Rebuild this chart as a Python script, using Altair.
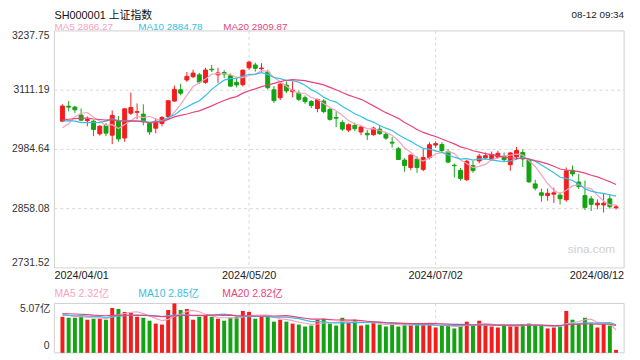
import altair as alt
import pandas as pd

# ---------------- data ----------------
dates = [
    "04/01", "04/02", "04/03", "04/08", "04/09", "04/10", "04/11", "04/12", "04/15", "04/16",
    "04/17", "04/18", "04/19", "04/22", "04/23", "04/24", "04/25", "04/26", "04/29", "04/30",
    "05/06", "05/07", "05/08", "05/09", "05/10", "05/13", "05/14", "05/15", "05/16", "05/17",
    "05/20", "05/21", "05/22", "05/23", "05/24", "05/27", "05/28", "05/29", "05/30", "05/31",
    "06/03", "06/04", "06/05", "06/06", "06/07", "06/11", "06/12", "06/13", "06/14", "06/17",
    "06/18", "06/19", "06/20", "06/21", "06/24", "06/25", "06/26", "06/27", "06/28", "07/01",
    "07/02", "07/03", "07/04", "07/05", "07/08", "07/09", "07/10", "07/11", "07/12", "07/15",
    "07/16", "07/17", "07/18", "07/19", "07/22", "07/23", "07/24", "07/25", "07/26", "07/29",
    "07/30", "07/31", "08/01", "08/02", "08/05", "08/06", "08/07", "08/08", "08/09", "08/12",
]
opens = [
    3045, 3077, 3075, 3058, 3046, 3045, 3018, 3036, 3015, 3045,
    3009, 3062, 3064, 3060, 3040, 3030, 3040, 3055, 3088, 3112,
    3133, 3140, 3144, 3128, 3156, 3144, 3149, 3142, 3128, 3123,
    3159, 3165, 3157, 3150, 3112, 3095, 3122, 3108, 3105, 3095,
    3087, 3072, 3088, 3070, 3053, 3042, 3026, 3036, 3022, 3019,
    3016, 3028, 3017, 3000, 2986, 2962, 2946, 2964, 2942, 2967,
    2994, 2995, 2980, 2951, 2940, 2920, 2950, 2960, 2967, 2965,
    2968, 2970, 2952, 2969, 2978, 2962, 2911, 2892, 2886, 2889,
    2887, 2877, 2940, 2915, 2886, 2879, 2866, 2866, 2879, 2860,
]
highs = [
    3081, 3088, 3078, 3072, 3055, 3047, 3036, 3041, 3068, 3056,
    3072, 3106, 3083, 3081, 3042, 3051, 3056, 3090, 3121, 3125,
    3150, 3155, 3148, 3159, 3165, 3159, 3154, 3147, 3140, 3155,
    3174, 3170, 3169, 3155, 3120, 3127, 3130, 3130, 3110, 3100,
    3090, 3093, 3092, 3073, 3066, 3047, 3040, 3042, 3034, 3026,
    3033, 3036, 3021, 3011, 2990, 2966, 2974, 2970, 2985, 3000,
    3002, 3000, 2985, 2954, 2945, 2962, 2960, 2975, 2978, 2980,
    2982, 2978, 2979, 2990, 2985, 2966, 2920, 2901, 2901, 2903,
    2893, 2946, 2950, 2932, 2918, 2885, 2878, 2890, 2888, 2866,
]
lows = [
    3043, 3066, 3062, 3045, 3034, 3013, 3014, 3013, 2996, 3001,
    3001, 3058, 3049, 3036, 3016, 3019, 3034, 3049, 3086, 3100,
    3129, 3137, 3125, 3125, 3150, 3127, 3137, 3118, 3117, 3119,
    3155, 3151, 3150, 3113, 3084, 3090, 3105, 3096, 3088, 3082,
    3073, 3064, 3062, 3046, 3032, 3024, 3022, 3024, 3015, 3005,
    3014, 3016, 3005, 2989, 2962, 2937, 2940, 2935, 2938, 2963,
    2988, 2978, 2955, 2925, 2918, 2917, 2935, 2955, 2963, 2960,
    2965, 2958, 2939, 2962, 2947, 2913, 2897, 2873, 2875, 2870,
    2867, 2873, 2927, 2900, 2855, 2853, 2857, 2850, 2858, 2856,
]
closes = [
    3077.4, 3075.0, 3069.3, 3047.1, 3048.5, 3027.3, 3034.3, 3019.5, 3057.4, 3007.1,
    3071.4, 3074.2, 3065.3, 3044.6, 3022.0, 3044.8, 3052.9, 3088.6, 3113.0, 3104.8,
    3140.7, 3147.7, 3128.5, 3154.3, 3154.6, 3148.0, 3145.8, 3119.9, 3122.4, 3154.0,
    3171.2, 3158.0, 3158.5, 3116.4, 3088.9, 3124.0, 3109.6, 3111.0, 3091.7, 3086.8,
    3078.5, 3091.2, 3065.4, 3048.8, 3051.3, 3028.1, 3037.5, 3028.9, 3032.6, 3015.9,
    3030.3, 3018.1, 3008.9, 2998.1, 2963.1, 2950.0, 2972.5, 2945.9, 2967.4, 2994.7,
    2997.0, 2982.4, 2957.6, 2949.9, 2922.5, 2959.4, 2939.4, 2970.4, 2971.3, 2974.0,
    2976.3, 2962.6, 2977.1, 2982.3, 2964.2, 2915.4, 2902.0, 2886.7, 2890.9, 2891.9,
    2879.3, 2938.8, 2932.4, 2905.3, 2860.7, 2867.3, 2869.9, 2869.8, 2862.2, 2862.0,
]
volumes = [
    3.7, 3.6, 3.6, 3.9, 3.4, 3.5, 3.5, 3.4, 4.6, 4.5,
    4.2, 4.1, 3.7, 3.6, 3.3, 3.0, 2.9, 4.4, 5.07, 4.4,
    4.5, 3.4, 3.7, 3.8, 3.7, 3.5, 3.3, 3.6, 3.7, 4.3,
    4.2, 3.5, 3.7, 3.7, 3.2, 3.4, 3.2, 3.0, 2.9, 2.7,
    2.8, 3.4, 3.5, 3.0, 2.8, 3.6, 3.1, 3.4, 2.8, 2.9,
    3.2, 2.9, 2.7, 3.0, 2.7, 2.9, 2.9, 2.9, 2.9, 2.9,
    2.6, 2.8, 2.8, 2.5, 2.9, 3.2, 2.8, 3.3, 2.8, 2.7,
    2.6, 2.8, 2.8, 2.8, 2.9, 3.0, 2.8, 2.8, 2.5, 2.6,
    2.7, 4.3, 3.4, 3.0, 3.6, 3.0, 2.6, 3.0, 2.8, 0.3,
]
# the 19 sessions before 04/01 (needed for the moving averages at the left edge)
prev_closes = [3039.3, 3040.1, 3027.4, 3046.0, 3068.5, 3055.9, 3043.8, 3038.2, 3054.6, 3084.9,
               3062.8, 3079.7, 3077.1, 3048.0, 3026.3, 3031.5, 2993.1, 3010.7, 3041.2]
prev_volumes = [4.0, 4.1, 4.4, 4.2, 4.6, 4.2, 3.9, 3.8, 4.0, 4.5,
                4.1, 3.9, 3.7, 4.0, 3.8, 3.7, 4.3, 3.9, 3.8]

price_ticks = [3237.75, 3111.19, 2984.64, 2858.08, 2731.52]
price_grid = [3111.19, 2984.64, 2858.08]
x_labels = ["2024/04/01", "2024/05/20", "2024/07/02", "2024/08/12"]
x_label_idx = [0, 30, 60, 89]
vol_max = 5.07

title_text = "SH000001 上证指数"
time_text = "08-12 09:34"
ma_price_text = ["MA5 2866.27", "MA10 2884.78", "MA20 2909.87"]
ma_vol_text = ["MA5 2.32亿", "MA10 2.85亿", "MA20 2.82亿"]

# ---------------- styling ----------------
UP, DOWN = "#f21d1d", "#13a313"
C5, C10, C20 = "#f6a2c0", "#35bfe2", "#e8437b"
GRID = "#d6d6d6"
FRAME = "#cfcfcf"
FONT = "Liberation Sans, Noto Sans CJK SC, sans-serif"
W, H = 577, 326
PH = 240          # price panel height
VT, VB = 276, 326  # volume panel top / bottom

n = len(dates)
df = pd.DataFrame({
    "i": list(range(n)), "date": dates, "o": opens, "h": highs, "l": lows,
    "c": closes, "vol": volumes,
})
df["dir"] = ["up" if c >= o else "down" for o, c in zip(opens, closes)]
df_prev = pd.DataFrame({"i": list(range(-len(prev_closes), 0)), "c": prev_closes, "vol": prev_volumes})
df_all = pd.concat([df_prev, df[["i", "c", "vol"]]], ignore_index=True)

XS = alt.Scale(domain=[-0.5, n - 0.5], nice=False, zero=False)
PY = alt.Scale(domain=[price_ticks[-1], price_ticks[0]], range=[PH, 0], nice=False, zero=False)
VY = alt.Scale(domain=[0, vol_max], range=[VB, VT], nice=False)
CS = alt.Scale(domain=["up", "down"], range=[UP, DOWN])

X = alt.X("i:Q", scale=XS, axis=None)

base = alt.Chart(df)

wicks = base.mark_rule(strokeWidth=1).encode(
    x=X, y=alt.Y("l:Q", scale=PY, axis=None), y2="h:Q",
    color=alt.Color("dir:N", scale=CS, legend=None))
bodies = base.mark_bar(size=4, strokeWidth=1).encode(
    x=X, y=alt.Y("o:Q", scale=PY, axis=None), y2="c:Q",
    color=alt.Color("dir:N", scale=CS, legend=None),
    stroke=alt.Stroke("dir:N", scale=CS, legend=None))

ma_src = alt.Chart(df_all).transform_window(
    p5="mean(c)", v5="mean(vol)", frame=[-4, 0], sort=[alt.SortField("i")]
).transform_window(
    p10="mean(c)", v10="mean(vol)", frame=[-9, 0], sort=[alt.SortField("i")]
).transform_window(
    p20="mean(c)", v20="mean(vol)", frame=[-19, 0], sort=[alt.SortField("i")]
).transform_filter("datum.i >= 0")


def ma_line(field, color, scale):
    return ma_src.mark_line(color=color, strokeWidth=1.2).encode(
        x=X, y=alt.Y(f"{field}:Q", scale=scale, axis=None))


vbars = base.mark_bar(size=4).encode(
    x=X, y=alt.Y("vol:Q", scale=VY, axis=None, stack=None), y2=alt.datum(0),
    color=alt.Color("dir:N", scale=CS, legend=None))

# grid lines
hgrid = alt.Chart(pd.DataFrame({"v": price_grid})).mark_rule(
    color=GRID, strokeDash=[3, 3], strokeWidth=1).encode(
    y=alt.Y("v:Q", scale=PY, axis=None), x=alt.value(0), x2=alt.value(W))
vgrid_df = pd.DataFrame({"i": x_label_idx[1:3]})
vgrid_p = alt.Chart(vgrid_df).mark_rule(color=GRID, strokeDash=[3, 3]).encode(
    x=X, y=alt.value(0), y2=alt.value(PH))
vgrid_v = alt.Chart(vgrid_df).mark_rule(color=GRID, strokeDash=[3, 3]).encode(
    x=X, y=alt.value(VT), y2=alt.value(VB))

# frames
frame_df = pd.DataFrame({"k": [0]})
def hline(y, x1=0, x2=W):
    return alt.Chart(frame_df).mark_rule(color=FRAME).encode(
        x=alt.value(x1), x2=alt.value(x2), y=alt.value(y))
def vline(x, y1, y2):
    return alt.Chart(frame_df).mark_rule(color=FRAME).encode(
        x=alt.value(x), y=alt.value(y1), y2=alt.value(y2))

frames = [hline(0), hline(PH), vline(0, 0, PH), vline(W, 0, PH),
          hline(VT), hline(VB), vline(0, VT, VB), vline(W, VT, VB)]

# y labels (price)
def ylab(vals, baseline):
    return alt.Chart(pd.DataFrame({"v": vals, "t": [f"{v:.2f}" for v in vals]})).mark_text(
        align="right", baseline=baseline, font=FONT, fontSize=10.5, color="#333", dx=-5).encode(
        x=alt.value(0), y=alt.Y("v:Q", scale=PY, axis=None), text="t:N")

ylabels = [ylab(price_ticks[:1], "top"), ylab(price_ticks[1:4], "middle"), ylab(price_ticks[4:], "bottom")]

# volume labels
vlab_top = alt.Chart(pd.DataFrame({"v": [vol_max], "t": [f"{vol_max:.2f}亿"]})).mark_text(
    align="right", baseline="top", font=FONT, fontSize=10.5, color="#333", dx=-4, dy=1).encode(
    x=alt.value(0), y=alt.Y("v:Q", scale=VY, axis=None), text="t:N")
vlab_0 = alt.Chart(pd.DataFrame({"v": [0], "t": ["0"]})).mark_text(
    align="right", baseline="bottom", font=FONT, fontSize=10.5, color="#333", dx=-5, dy=-2).encode(
    x=alt.value(0), y=alt.Y("v:Q", scale=VY, axis=None), text="t:N")

# x labels
xl_df = pd.DataFrame({"i": x_label_idx, "t": x_labels})
xl_first = alt.Chart(xl_df.iloc[[0]]).mark_text(
    align="left", baseline="middle", font=FONT, fontSize=11, color="#222").encode(
    x=alt.value(0), y=alt.value(PH + 8), text="t:N")
xl_mid = alt.Chart(xl_df.iloc[1:3]).mark_text(
    align="center", baseline="middle", font=FONT, fontSize=11, color="#222").encode(
    x=X, y=alt.value(PH + 8), text="t:N")
xl_last = alt.Chart(xl_df.iloc[[3]]).mark_text(
    align="right", baseline="middle", font=FONT, fontSize=11, color="#222").encode(
    x=alt.value(W), y=alt.value(PH + 8), text="t:N")

# header texts
def label(text, x, y, color, size=10.5, align="left", baseline="middle"):
    return alt.Chart(pd.DataFrame({"t": [text]})).mark_text(
        align=align, baseline=baseline, font=FONT, fontSize=size, color=color).encode(
        x=alt.value(x), y=alt.value(y), text="t:N")

VLEG = 295 - 29   # volume legend centre (chart coordinates)
headers = [
    label(title_text, 0, -21, "#111", size=11, baseline="top"),
    label(time_text, W, -21, "#222", size=10, align="right", baseline="top"),
    label(ma_price_text[0], 0, -3.5, C5, size=10),
    label(ma_price_text[1], 85, -3.5, C10, size=10),
    label(ma_price_text[2], 171, -3.5, C20, size=10),
    label(ma_vol_text[0], 0, VLEG, C5),
    label(ma_vol_text[1], 85, VLEG, C10),
    label(ma_vol_text[2], 170, VLEG, C20),
    label("sina.com", 568, 221, "#cfcfcf", size=12, align="right"),
]

layers = ([hgrid, vgrid_p, vgrid_v] + frames + [wicks, bodies,
          ma_line("p5", C5, PY), ma_line("p10", C10, PY), ma_line("p20", C20, PY),
          vbars, ma_line("v5", C5, VY), ma_line("v10", C10, VY), ma_line("v20", C20, VY)]
          + ylabels + [vlab_top, vlab_0, xl_first, xl_mid, xl_last] + headers)

chart = alt.layer(*layers).resolve_scale(y="independent").properties(
    width=W, height=H,
    autosize=alt.AutoSizeParams(type="none"),
    padding={"left": 47, "top": 21, "right": 8, "bottom": 2},
    background="white",
).configure_view(strokeWidth=0)

chart.save("out.html", embed_options={"renderer": "svg", "actions": False})
